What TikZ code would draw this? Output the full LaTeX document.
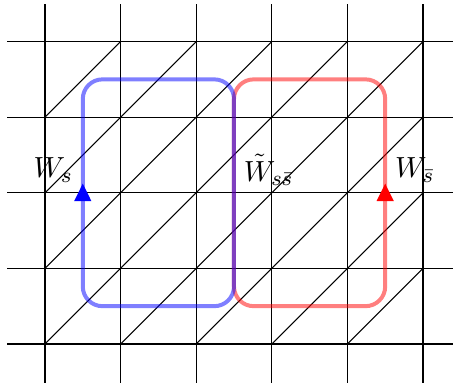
\documentclass[tikz,border=0pt]{standalone}
\usepackage{amsmath,amssymb}
\usepackage{tikz}
\usetikzlibrary{arrows.meta}

\begin{document}
\begin{tikzpicture}[
  x=1cm, y=1cm,
  gridline/.style={black, line width=0.4pt},
  diag/.style={black, line width=0.4pt},
  loopline/.style={line width=1.5pt, rounded corners=0.26cm, opacity=0.5},
  tip/.style={line width=1.5pt, -{Triangle[length=6.7pt, width=6pt]}},
  lab/.style={font=\fontsize{11}{13}\selectfont, inner sep=3.5pt},
]
\useasboundingbox (-0.595,-0.516) rectangle (5.397,4.55);
% lattice
\foreach \i in {0,...,5}
  \draw[gridline] (\i,-0.52) -- (\i,4.5);
\foreach \j in {0,...,4}
  \draw[gridline] (-0.5,\j) -- (5.4,\j);
\foreach \i in {0,...,4}
  \foreach \j in {0,...,3}
    \draw[diag] (\i,\j) -- (\i+1,\j+1);
% loops
\draw[loopline, red] (2.5,0.5) rectangle (4.5,3.5);
\draw[loopline, blue] (0.5,0.5) rectangle (2.5,3.5);
\coordinate (bs) at (0.5,1.9);
\coordinate (be) at (0.5,2.126);
\coordinate (rs) at (4.5,1.9);
\coordinate (re) at (4.5,2.126);
\draw[tip, blue] (bs) -- (be);
\draw[tip, red] (rs) -- (re);
% labels
\node[lab, left] (ws) at (0.5,2.3) {$W_s$};
\node[lab, right] (wssbar) at (2.5,2.3) {$\tilde{W}_{s\bar{s}}$};
\node[lab, right] (wsbar) at (4.5,2.3) {$W_{\bar{s}}$};
\end{tikzpicture}
\end{document}
